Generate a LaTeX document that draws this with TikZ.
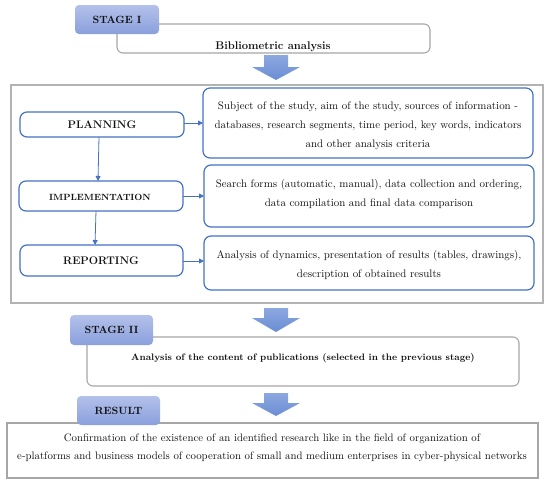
\documentclass[tikz,border=0pt]{standalone}
\usetikzlibrary{arrows.meta}
\definecolor{bblue}{HTML}{4472C4}
\definecolor{gborder}{HTML}{A6A6A6}
\definecolor{stagetop}{HTML}{B3C1EA}
\definecolor{stagebot}{HTML}{8A9FDC}
\definecolor{arrtop}{HTML}{8DA8E0}
\definecolor{arrbot}{HTML}{6A8DD3}
\definecolor{txt}{HTML}{111111}
\tikzset{
  bluebox/.style={draw=bblue, line width=1.2pt, rounded corners=7pt},
  graybox/.style={draw=gborder, line width=1.1pt, rounded corners=6pt},
  stagebox/.style={rounded corners=4pt, top color=stagetop, bottom color=stagebot, draw=none},
  bigarrow/.style={top color=arrtop, bottom color=arrbot, draw=none},
  conn/.style={draw=bblue, line width=0.8pt, -{Triangle[length=5pt,width=5pt]}},
  lbl/.style={text=txt, font=\fontsize{10}{12}\selectfont, inner sep=0pt},
  body/.style={text=txt, font=\fontsize{10.9}{19}\selectfont, align=center, inner sep=0pt},
  boldlbl/.style={text=txt, font=\bfseries\fontsize{11}{13}\selectfont, inner sep=0pt},
}
\begin{document}
\begin{tikzpicture}[x=1pt,y=-1pt]
\useasboundingbox (0,0) rectangle (550,488);
% Stage I
\draw[graybox] (117,24) rectangle (430,53);
\node[lbl, font=\bfseries\fontsize{11.2}{13}\selectfont] (bib) at (273,46.5) {Bibliometric analysis};
\shade[stagebox] (75,5) rectangle (159,34);
\node[boldlbl, font=\bfseries\fontsize{10.5}{12}\selectfont] (st1) at (117,19.5) {STAGE I};
% arrow 1
\shade[bigarrow] (264,55) -- (288,55) -- (288,67) -- (300,67) -- (276,80) -- (252,67) -- (264,67) -- cycle;
% frame
\draw[draw=gborder!85, line width=1.6pt] (11,85) rectangle (543,303);
% left boxes
\draw[bluebox] (20,112) rectangle (184,137);
\node[boldlbl] (plan) at (102,125) {PLANNING};
\coordinate (planR) at (184,123);
\coordinate (planB) at (99,137);
\draw[bluebox] (19,181) rectangle (183,211);
\node[boldlbl, font=\bfseries\fontsize{9}{11}\selectfont] (impl) at (100,197) {IMPLEMENTATION};
\coordinate (implT) at (98,181);
\coordinate (implR) at (183,196);
\coordinate (implB) at (96,211);
\draw[bluebox] (20,245) rectangle (183,276);
\node[boldlbl] (rep) at (101,261) {REPORTING};
\coordinate (repT) at (95,245);
\coordinate (repR) at (183,261);
% right boxes
\draw[bluebox] (203,88) rectangle (533,158);
\coordinate (subjL) at (203,123);
\node[body] (subj) at (368,125.5) {Subject of the study, aim of the study, sources of information -\\databases, research segments, time period, key words, indicators\\and other analysis criteria};
\draw[bluebox] (204,165) rectangle (534,227);
\coordinate (searchL) at (204,196);
\node[body] (search) at (369,193.5) {Search forms (automatic, manual), data collection and ordering,\\data compilation and final data comparison};
\draw[bluebox] (204,236) rectangle (534,290);
\coordinate (anaL) at (204,261);
\node[body] (ana) at (369,264.5) {Analysis of dynamics, presentation of results (tables, drawings),\\description of obtained results};
% connectors
\draw[conn] (planR) -- (subjL);
\draw[conn] (implR) -- (searchL);
\draw[conn] (repR) -- (anaL);
\draw[conn] (planB) -- (implT);
\draw[conn] (implB) -- (repT);
% arrow 2
\shade[bigarrow] (264,308) -- (288,308) -- (288,318) -- (300,318) -- (276,332) -- (252,318) -- (264,318) -- cycle;
% Stage II
\draw[graybox] (87,337) rectangle (519,386);
\node[lbl, font=\bfseries\fontsize{9.4}{11}\selectfont] (cont) at (303,358) {Analysis of the content of publications (selected in the previous stage)};
\shade[stagebox] (70,315) rectangle (153,345);
\node[boldlbl, font=\bfseries\fontsize{10.5}{12}\selectfont] (st2) at (111.5,330) {STAGE II};
% arrow 3
\shade[bigarrow] (264,393) -- (288,393) -- (288,403) -- (300,403) -- (276,416) -- (252,403) -- (264,403) -- cycle;
% Result
\draw[draw=gborder, line width=1.1pt] (7,423) rectangle (538,478);
\node[body, font=\fontsize{10.8}{18}\selectfont] (res) at (272,448) {Confirmation of the existence of an identified research like in the field of organization of\\e-platforms and business models of cooperation of small and medium enterprises in cyber-physical networks};
\shade[stagebox] (77,396) rectangle (160,425);
\node[boldlbl, font=\bfseries\fontsize{10.5}{12}\selectfont] (rst) at (118.5,411) {RESULT};
\end{tikzpicture}
\end{document}
